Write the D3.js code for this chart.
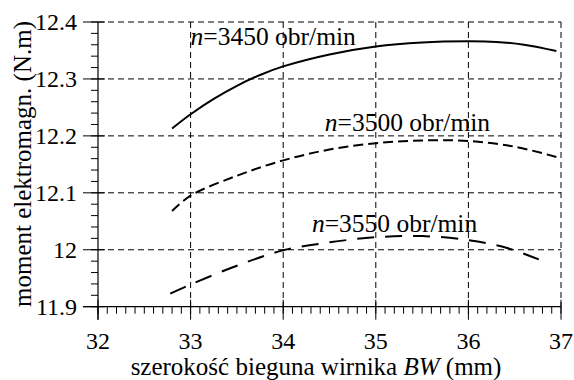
<!DOCTYPE html>
<html><head><meta charset="utf-8">
<script src="https://cdn.jsdelivr.net/npm/d3@7"></script>
<style>
html,body{margin:0;padding:0;background:#fff;}
</style></head>
<body>
<svg id="c" width="574" height="380"></svg>
<script>
// ---- data ----
const xTicks = [32, 33, 34, 35, 36, 37];
const xTickLabels = ["32", "33", "34", "35", "36", "37"];
const yTicks = [11.9, 12.0, 12.1, 12.2, 12.3, 12.4];
const yTickLabels = ["11.9", "12", "12.1", "12.2", "12.3", "12.4"];

const bw3450 = [32.8, 33.0, 33.25, 33.5, 33.75, 34.0, 34.5, 35.0, 35.5, 36.0, 36.3, 36.6, 36.95];
const m3450  = [12.213, 12.238, 12.265, 12.288, 12.307, 12.322, 12.343, 12.357, 12.364, 12.366, 12.365, 12.360, 12.349];

const bw3500 = [32.8, 33.0, 33.5, 34.0, 34.5, 35.0, 35.5, 36.0, 36.5, 36.95];
const m3500  = [12.068, 12.095, 12.13, 12.157, 12.176, 12.187, 12.192, 12.191, 12.181, 12.163];

const bw3550 = [32.78, 33.0, 33.5, 34.0, 34.5, 35.0, 35.5, 36.0, 36.4, 36.76];
const m3550  = [11.923, 11.939, 11.972, 11.999, 12.013, 12.022, 12.024, 12.017, 12.004, 11.983];

const seriesLabels = ["3450", "3500", "3550"];

// ---- chart ----
const FONT = "'Liberation Serif', 'Times New Roman', 'DejaVu Serif', serif";
const svg = d3.select("#c");
const L = 98, R = 561, T = 22, B = 306.7;
const x = d3.scaleLinear().domain([32, 37]).range([L, R]);
const y = d3.scaleLinear().domain([11.9, 12.4]).range([B, T]);

const g = svg.append("g").attr("font-family", FONT);

// grid
xTicks.slice(1).forEach(v => {
  g.append("line").attr("x1", x(v)).attr("x2", x(v)).attr("y1", T).attr("y2", B)
   .attr("stroke", "#000").attr("stroke-width", 1).attr("stroke-dasharray", "6,4");
});
yTicks.slice(1).forEach(v => {
  g.append("line").attr("x1", L).attr("x2", R).attr("y1", y(v)).attr("y2", y(v))
   .attr("stroke", "#000").attr("stroke-width", 1).attr("stroke-dasharray", "6,4");
});

// minor ticks
d3.range(32, 37.001, 0.1).forEach(v => {
  g.append("line").attr("x1", x(v)).attr("x2", x(v)).attr("y1", B).attr("y2", B + 7)
   .attr("stroke", "#000").attr("stroke-width", 1);
});
d3.range(11.9, 12.4001, 0.02).forEach(v => {
  g.append("line").attr("x1", L - 7).attr("x2", L).attr("y1", y(v)).attr("y2", y(v))
   .attr("stroke", "#000").attr("stroke-width", 1);
});
// major ticks
xTicks.forEach(v => {
  g.append("line").attr("x1", x(v)).attr("x2", x(v)).attr("y1", B - 7).attr("y2", B + 13)
   .attr("stroke", "#000").attr("stroke-width", 1);
});
yTicks.forEach(v => {
  g.append("line").attr("x1", L - 15).attr("x2", L + 7).attr("y1", y(v)).attr("y2", y(v))
   .attr("stroke", "#000").attr("stroke-width", 1);
});
// axes lines
g.append("line").attr("x1", L).attr("x2", L).attr("y1", T).attr("y2", B + 13).attr("stroke", "#000").attr("stroke-width", 1.2);
g.append("line").attr("x1", L - 15).attr("x2", R).attr("y1", B).attr("y2", B).attr("stroke", "#000").attr("stroke-width", 1.2);

// tick labels
xTicks.forEach((v, i) => {
  g.append("text").attr("x", x(v)).attr("y", 349).attr("text-anchor", "middle")
   .attr("font-size", 24).text(xTickLabels[i]);
});
yTicks.forEach((v, i) => {
  g.append("text").attr("x", 77).attr("y", y(v) + 8).attr("text-anchor", "end")
   .attr("font-size", 24).text(yTickLabels[i]);
});

// axis titles
const xt = g.append("text").attr("x", 316).attr("y", 375).attr("text-anchor", "middle").attr("font-size", 25);
xt.append("tspan").text("szerokość bieguna wirnika ");
xt.append("tspan").attr("font-style", "italic").text("BW");
xt.append("tspan").text(" (mm)");

g.append("text").attr("transform", "translate(31,164) rotate(-90)").attr("text-anchor", "middle")
 .attr("font-size", 25).text("moment elektromagn. (N.m)");

// curves
const line = d3.line().x(d => x(d[0])).y(d => y(d[1])).curve(d3.curveCatmullRom);
const mk = (xs, ys) => xs.map((v, i) => [v, ys[i]]);
g.append("path").attr("d", line(mk(bw3450, m3450))).attr("fill", "none").attr("stroke", "#000").attr("stroke-width", 2);
g.append("path").attr("d", line(mk(bw3500, m3500))).attr("fill", "none").attr("stroke", "#000").attr("stroke-width", 2).attr("stroke-dasharray", "10,5");
g.append("path").attr("d", line(mk(bw3550, m3550))).attr("fill", "none").attr("stroke", "#000").attr("stroke-width", 2).attr("stroke-dasharray", "17,11");

// curve labels
const labPos = [[33.0, 12.36], [34.45, 12.208], [34.31, 12.031]];
seriesLabels.forEach((s, i) => {
  const t = g.append("text").attr("x", x(labPos[i][0])).attr("y", y(labPos[i][1])).attr("font-size", 25.5);
  t.append("tspan").attr("font-style", "italic").text("n");
  t.append("tspan").text("=" + s + " obr/min");
});
</script>
</body></html>
